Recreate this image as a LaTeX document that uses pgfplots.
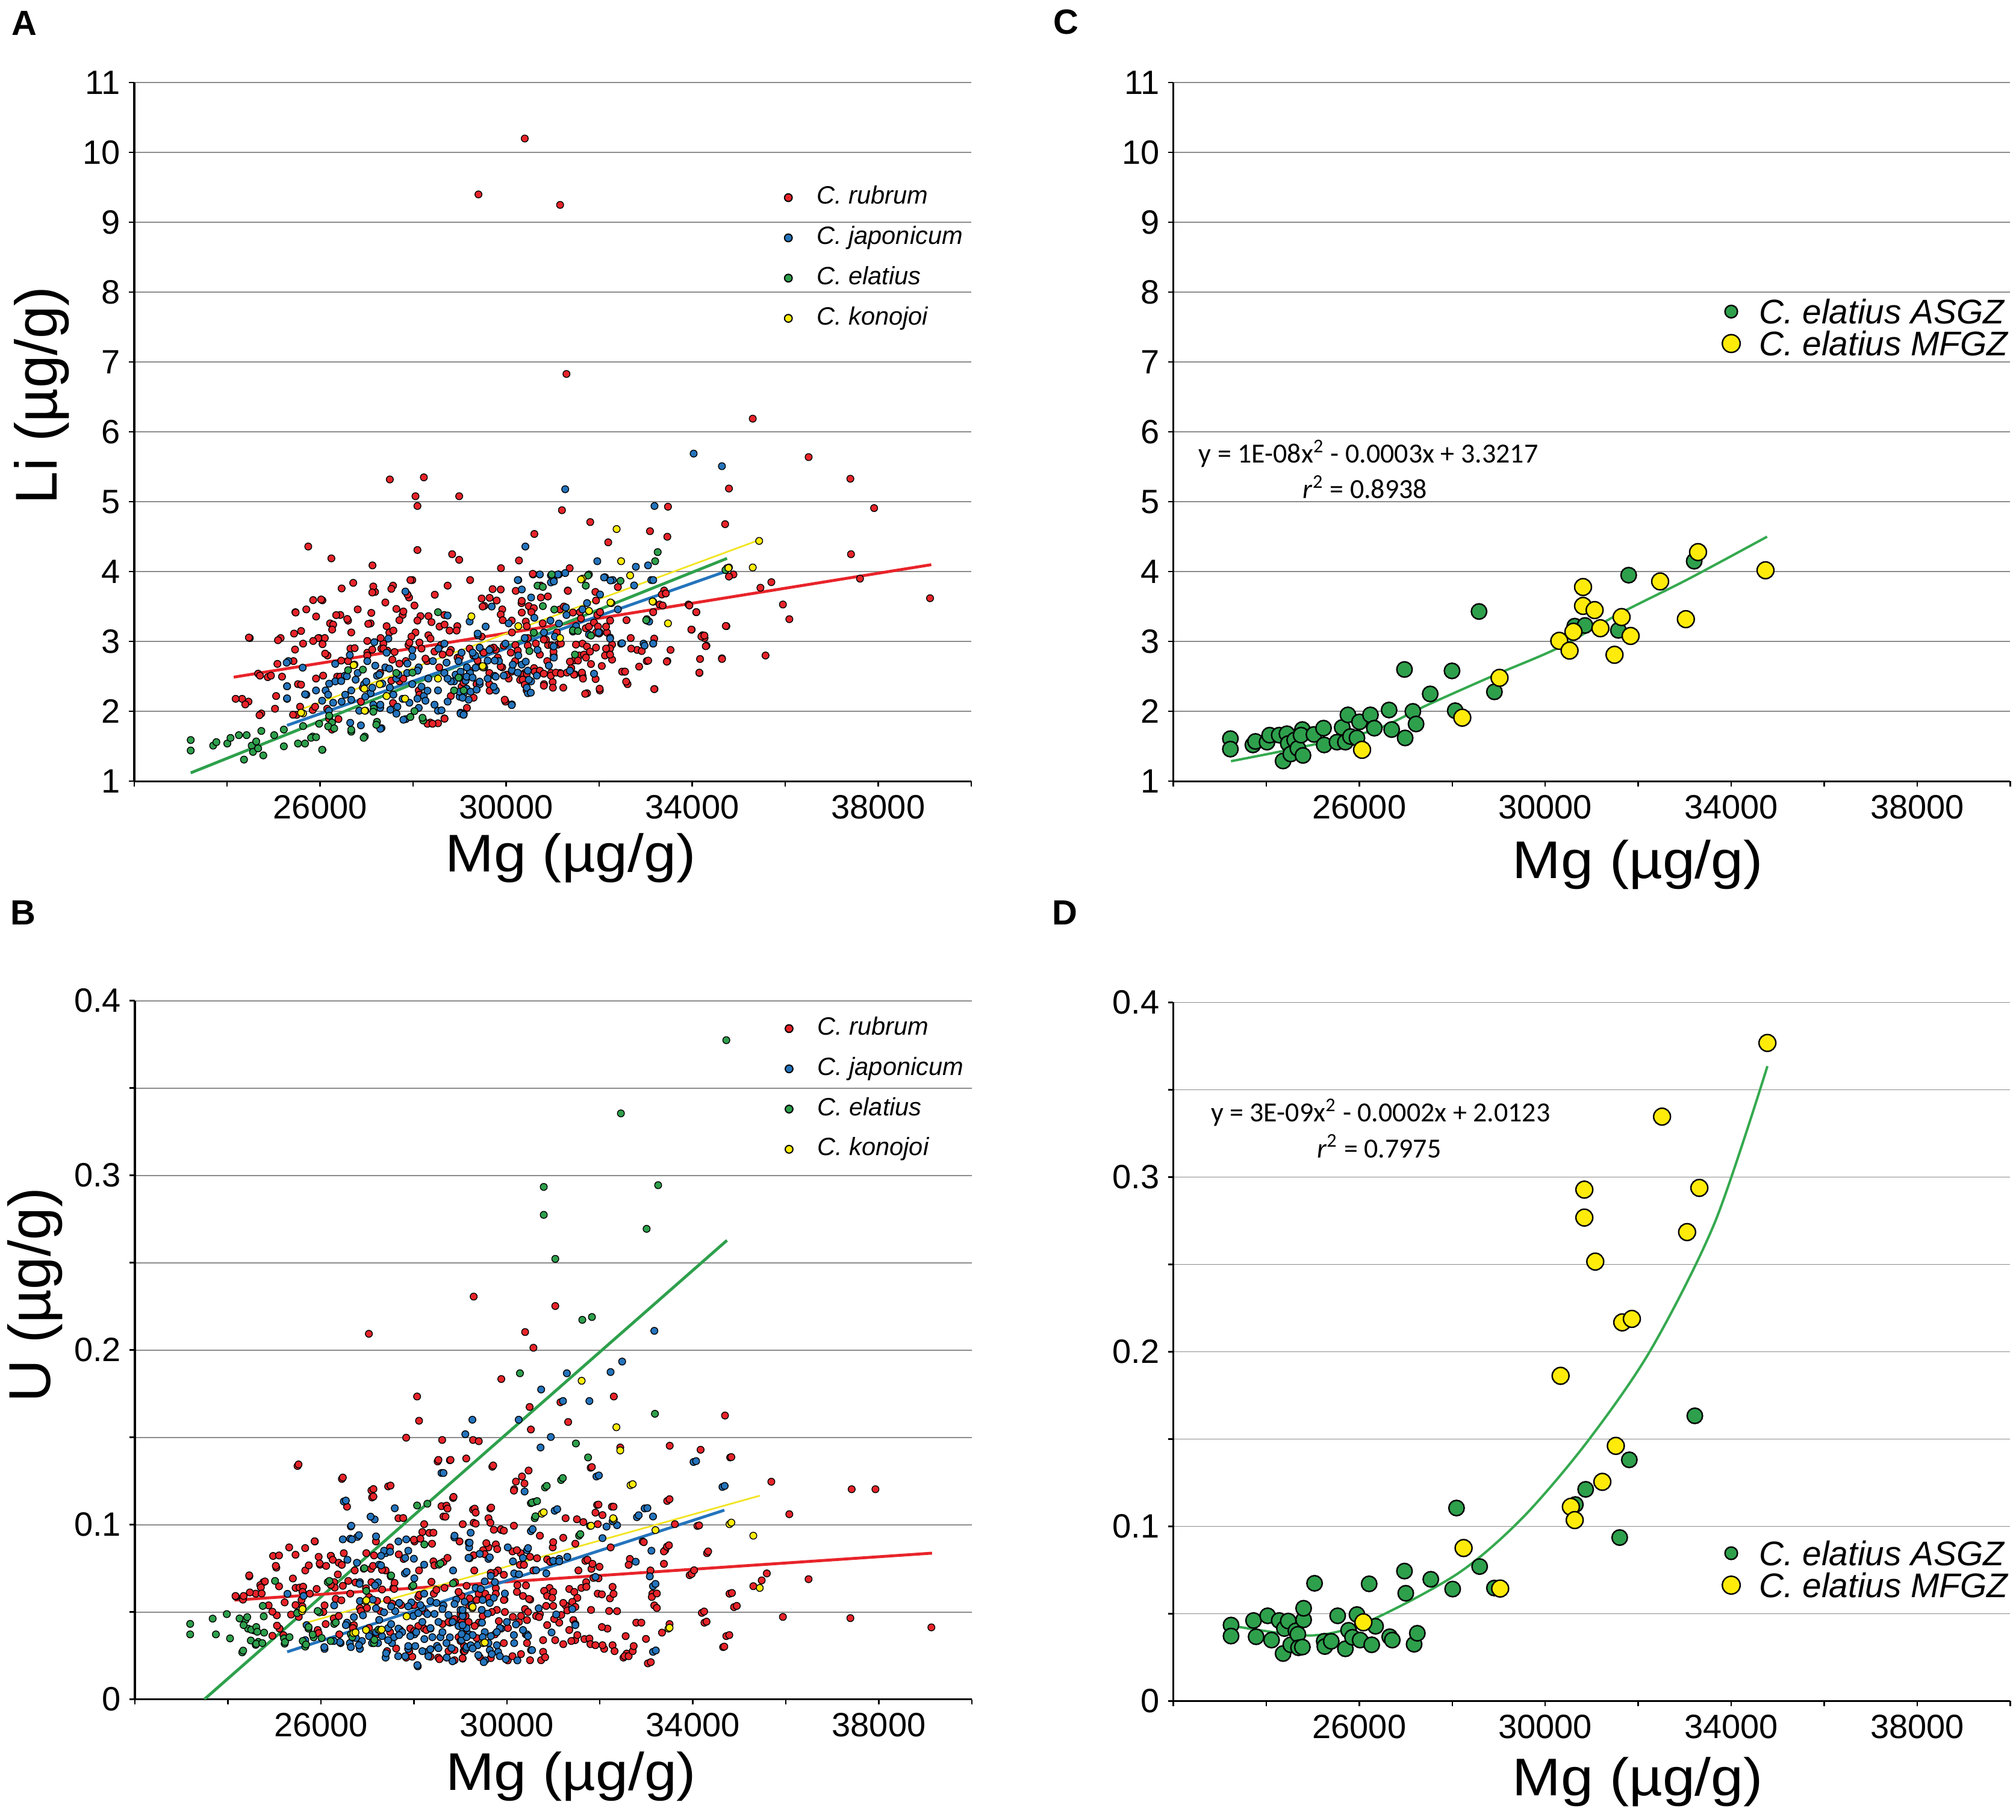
\documentclass[border=0pt]{standalone}
\usepackage{graphicx}
\usepackage{fontspec}
\setmainfont{Liberation Sans}
\newfontfamily\calib{Carlito}
\usepackage{pgfplots}
\pgfplotsset{compat=1.18}

\definecolor{cRed}{HTML}{E8242A}
\definecolor{cBlue}{HTML}{2474BC}
\definecolor{cGreen}{HTML}{2EA04C}
\definecolor{cYellow}{HTML}{FFEB0A}
\definecolor{lGreen}{HTML}{35A94F}
\definecolor{lYellow}{HTML}{F2E422}
\definecolor{gridgray}{HTML}{8C8C8C}

\pgfplotsset{
  panel/.style={
    scale only axis, width=347.5pt, height=290pt,
    xmin=22000, xmax=40000,
    axis x line*=bottom, axis y line*=left,
    axis line style={line width=0.85pt, -},
    xtick={22000,24000,...,40000},
    xticklabels={,,26000,,30000,,34000,,38000,},
    scaled x ticks=false,
    tick align=outside, major tick length=2.2pt,
    tick style={black, line width=0.6pt},
    ymajorgrids, major grid style={line width=0.45pt, gridgray},
    ticklabel style={font=\fontsize{14}{16}\selectfont},
    /pgf/number format/assume math mode=true,
    xlabel={\scalebox{1.1}[1]{Mg (µg/g)}},
    xlabel style={font=\fontsize{22}{24}\selectfont, anchor=center},
    ylabel style={font=\fontsize{24.5}{26}\selectfont, anchor=center, rotate=0},
    legend cell align=left,
  },
  smallleg/.style={
    legend style={draw=none, fill=none, inner sep=0pt, outer sep=0pt,
      anchor=west, font=\fontsize{10.4}{12}\selectfont\itshape,
      row sep=7pt, column sep=10.15pt,
      nodes={inner sep=0pt, text height=7.5pt, text depth=2.2pt}},
  },
  bigleg/.style={
    legend style={draw=none, fill=none, inner sep=0pt, outer sep=0pt,
      anchor=west, font=\fontsize{14.2}{16}\selectfont\itshape,
      row sep=2.25pt, column sep=7.8pt,
      nodes={inner sep=0pt, text height=10.5pt, text depth=0.5pt}},
  },
  dot/.style={only marks, mark=*, mark size=1.45pt, draw=black, line width=0.35pt, fill=#1,
    legend image code/.code={\draw[##1, mark size=1.6pt, line width=0.5pt] plot coordinates {(0pt,0pt)};}},
  bigdot/.style n args={3}{only marks, mark=*, mark size=#2, draw=black, line width=0.6pt, fill=#1,
    legend image code/.code={\draw[##1, mark size=#3] plot coordinates {(0pt,0pt)};}},
}

\begin{document}
\begin{tikzpicture}
\path[use as bounding box] (0pt,0pt) rectangle (837pt,-755.25pt);

% panel letters
\node[font=\fontsize{14.5}{16}\selectfont\bfseries] at (10.15pt,-9.6pt) {A};
\node[font=\fontsize{14.5}{16}\selectfont\bfseries] at (442.5pt,-9.2pt) {C};
\node[font=\fontsize{14.5}{16}\selectfont\bfseries] at (9.6pt,-379pt) {B};
\node[font=\fontsize{14.5}{16}\selectfont\bfseries] at (442pt,-379pt) {D};

% ---------------- A ----------------
\begin{axis}[panel, smallleg, at={(55.7pt,-324.3pt)}, anchor=south west,
  ymin=1, ymax=11, ytick={1,2,...,11},
  ylabel={Li (µg/g)},
  xlabel style={at={(axis description cs:0.5215,-0.1103)}},
  ylabel style={at={(axis description cs:-0.1105,0.5525)}, rotate=0},
  legend style={at={(axis description cs:0.777,0.749)}}]
\addplot[dot=cRed] coordinates {
(30400,10.2) (29404,9.40) (31160,9.25) (31297,6.83) (35303,6.19) (36505,5.64) (37402,5.33) (37913,4.91)
(37416,4.25) (37610,3.90) (39116,3.62) (34791,5.19) (34709,4.68) (35952,3.53) (36090,3.32) (35703,3.85)
(35468,3.77) (35578,2.80) (34888,3.96) (34791,3.93) (34736,3.22) (34640,2.76) (34156,2.55) (34308,2.94)
(34225,3.09) (34087,3.42) (33990,3.17) (33921,3.53) (33480,4.93) (33466,4.50) (33093,4.58) (33397,3.73)
(33300,3.53) (33466,2.72) (33190,2.32) (33024,2.72) (32817,2.88) (32679,3.05) (32610,2.39) (32540,2.57)
(32195,4.42) (32236,3.30) (32195,2.90) (32126,2.80) (32057,2.65) (31808,4.71) (31960,3.38) (32015,2.30)
(31739,2.26) (31642,2.97) (31642,2.51) (31463,2.73) (31366,4.05) (31325,3.73) (31200,4.88) (31159,3.46)
(31090,3.13) (31021,2.80) (30966,2.55) (30883,2.72) (30786,3.26) (30745,3.80) (30606,4.54) (30579,3.96)
(30537,3.46) (30468,3.05) (30399,2.55) (30330,3.55) (30275,4.16) (30192,2.72) (30123,3.13) (30054,2.47)
(29916,3.46) (29888,4.05) (29777,2.88) (29708,3.75) (29639,2.55) (29529,3.51) (29473,3.07) (29363,2.39)
(29294,2.80) (29225,3.88) (28990,5.08) (28990,4.17) (28949,3.22) (28838,4.25) (28810,2.88) (28741,3.80)
(28672,3.38) (28562,2.63) (28465,3.67) (28368,1.84) (28327,3.09) (28230,5.35) (28092,4.31) (28050,5.08)
(28092,4.94) (28050,3.13) (27981,3.88) (27912,3.63) (27843,2.72) (27774,3.38) (27567,3.80) (27498,5.32)
(27429,3.22) (27360,2.97) (27291,2.55) (27180,3.71) (27125,4.09) (27084,3.26) (27014,2.84) (26918,2.34)
(26807,3.46) (26711,3.84) (26669,3.13) (26600,2.72) (26462,3.76) (26434,3.38) (26241,4.19) (26213,3.26)
(26158,2.80) (26048,3.59) (25979,3.05) (25910,2.47) (25744,4.36) (25702,3.46) (25633,2.97) (25523,2.39)
(25467,3.42) (25426,2.72) (25288,2.18) (25150,3.05) (25081,2.68) (25053,2.22) (24873,2.49) (24735,1.97)
(24666,2.54) (24486,3.05) (24459,2.14) (24321,2.18) (24183,2.18) (24390,2.10) (25495,1.95) (25840,2.02)
(26255,1.74) (26393,1.89) (26876,2.14) (27567,2.12) (28534,1.83) (28672,1.90) (29156,2.05) (29985,2.14)
(29639,2.39) (30440,2.30) (30813,2.39) (31159,2.55) (31477,2.53) (31712,3.19) (31919,3.71) (32403,3.78)
(33162,3.42) (33535,2.88) (34267,3.05) (34170,2.75) (31228,2.34) (31573,2.80) (29916,2.63) (28120,2.30)
(27705,2.43) (28810,2.22) (29800,2.75) (30200,2.95) (30600,2.62) (31000,2.42) (31400,2.62) (30900,2.95)
(30300,2.45) (29500,2.85) (28600,2.95) (28300,2.72) (27900,2.95) (27600,2.85) (27300,3.05) (26600,3.30)
(26100,3.05)
(27143,3.788) (27121,3.702) (27531,3.754) (27941,3.880) (27877,3.673) (28028,3.516) (27639,3.467) (27790,3.430)
(27704,3.306) (28157,3.364) (28330,3.364) (28394,3.278) (28567,3.214) (28675,3.243) (28783,3.157) (28934,3.157)
(27488,3.128) (27575,3.157) (27963,3.071) (27920,2.985) (28135,2.985) (28179,2.899) (28373,3.042) (28459,2.856)
(28265,2.755) (28632,2.813) (28783,2.841) (28955,2.770) (27553,2.741) (27704,2.684) (27316,2.899) (27445,2.870)
(27121,2.885) (27014,2.798) (27790,2.469) (27531,2.440) (28135,2.239) (28308,1.823) (28416,1.823) (28675,1.895)
(29042,2.354) (29171,2.497) (26366,2.497) (26431,2.497) (26064,2.512) (26194,1.895) (26151,2.038) (25892,2.067)
(25417,1.952) (25568,2.067) (25590,2.382) (24705,2.512) (24942,2.512) (25180,2.497) (25029,2.038) (24696,1.946)
(24468,3.057) (25093,3.019) (25473,3.415) (25590,3.151) (25439,3.114) (25849,3.593) (26021,3.602) (25913,3.358)
(26345,3.378) (26582,3.323) (26280,3.243) (26258,3.171) (25957,3.048) (26051,2.962) (26107,2.827) (25460,2.885)
(25849,3.008) (26453,2.727) (26651,2.899) (26742,2.905) (27014,3.008) (27035,3.252) (27402,3.559) (27100,3.410)
(27359,2.899) (28092,3.300)
(29883,3.745) (30206,3.725) (30573,3.969) (30746,3.630) (30897,3.645) (29473,3.616) (29645,3.625) (29796,3.587)
(29494,3.501) (29883,3.387) (29926,3.306) (30120,3.300) (30336,3.582) (30336,3.415) (30487,3.507) (30595,3.478)
(30543,3.421) (30422,3.286) (30444,3.220) (31328,3.725) (31242,3.501) (31436,3.415) (31587,3.421) (31609,3.329)
(31932,3.587) (31781,3.214) (31889,3.272) (31975,3.214) (32019,3.128) (31932,3.128) (32170,3.128) (32235,3.057)
(32278,2.956) (32235,2.899) (32148,2.899) (32278,2.741) (32235,2.813) (31738,2.928) (31673,2.813) (31717,2.770)
(31544,2.727) (31371,2.712) (31501,2.956) (31824,2.678) (31803,2.856) (31932,2.913) (31997,3.114) (31630,2.555)
(31458,2.526) (31652,2.469) (31924,2.463) (32010,2.325) (31699,2.251) (31018,2.856) (30983,2.942) (31113,2.956)
(31177,2.971) (30854,3.028) (30810,3.028) (30724,2.813) (30638,2.971) (30465,2.942) (30250,2.870) (30099,2.841)
(29948,2.942) (29732,2.913) (29667,2.899) (29818,2.770) (29883,2.641) (30012,2.526) (30120,2.569) (30379,2.526)
(30357,2.454) (30444,2.540) (30616,2.569) (30724,2.583) (30810,2.540) (30961,2.512) (31069,2.555) (31177,2.540)
(31307,2.555) (30810,2.368) (31005,2.339) (30401,2.382) (29969,2.167) (29645,2.296) (29300,2.196) (29084,2.411)
(29214,2.583) (29386,2.727) (29516,2.841) (29214,2.899) (29000,2.770) (32493,2.569) (32580,2.426) (32688,2.899)
(32860,2.641) (33054,2.727) (33184,3.042) (33184,2.319) (32916,2.864) (33455,2.712) (33982,3.171) (34198,3.071)
(34263,3.085) (34293,2.933) (34155,2.555) (34642,2.750) (34724,3.223) (34090,3.421) (33939,3.516) (33348,3.673)
(33434,3.688) (33365,3.516) (32588,3.306) (32148,3.214) (32558,2.569) (32019,3.421)};
\addlegendentry{C. rubrum}
\addplot[dot=cBlue] coordinates {
(34032,5.69) (34640,5.51) (31270,5.18) (33190,4.94) (30413,4.36) (31960,4.15) (32789,4.07) (33051,4.09)
(32126,3.92) (32292,3.88) (31270,3.98) (31131,3.96) (31021,3.88) (30261,3.88) (33121,3.88) (30537,3.63)
(31642,3.46) (32403,3.46) (31988,3.13) (32472,2.97) (32955,2.97) (33162,2.97) (33024,3.30) (30123,2.10)
(30468,2.26) (29087,1.97) (27843,1.89) (27318,1.76) (26876,1.80) (25316,2.72) (25288,2.36) (25702,2.24)
(26117,2.30) (26324,2.43) (26531,2.51) (26669,2.30) (26807,2.55) (26945,2.39) (27084,2.26) (27222,2.51)
(27401,2.63) (27498,2.34) (27636,2.47) (27774,2.18) (27871,2.55) (27981,2.39) (28120,2.63) (28230,2.22)
(28327,2.47) (28424,2.72) (28534,2.30) (28672,2.55) (28741,2.14) (28880,2.43) (28976,2.72) (29087,2.26)
(29225,2.55) (29335,2.80) (29432,2.39) (29529,2.63) (29639,2.88) (29750,2.51) (29846,2.72) (29985,2.97)
(30123,2.59) (30261,2.80) (30399,3.05) (30537,2.43) (30675,2.88) (30813,3.13) (30952,3.30) (31297,3.38)
(31504,3.22) (31739,3.55) (26462,2.14) (26186,2.01) (27291,2.05) (28120,2.05) (28810,2.43) (29391,3.09)
(30054,3.26) (30606,3.34) (31021,2.93) (25910,2.30) (26324,2.68) (27014,2.72) (27429,2.84) (27981,2.88)
(28672,2.97) (29156,2.63) (29777,2.30) (28534,2.01)
(25279,2.698) (25624,2.626) (25288,2.360) (25288,2.187) (25676,2.245) (26194,2.397) (26172,2.239) (26453,2.434)
(26574,2.503) (26638,2.807) (26763,2.454) (26992,2.426) (27121,2.339) (27165,2.991) (27186,2.655) (27273,2.526)
(27337,2.397) (27488,2.612) (27683,2.526) (27877,2.684) (27985,2.784) (28092,2.583) (28179,2.354) (28308,2.296)
(28459,2.096) (28610,2.015) (28740,2.469) (29020,1.981) (29085,1.952) (27467,3.042) (27575,2.239) (27661,2.067)
(27790,1.881) (27920,2.124) (28092,2.182) (28265,2.153) (26841,2.010) (26970,2.210) (27143,2.096) (27294,2.096)
(27510,2.024) (27640,1.967) (26668,2.167) (26647,1.837) (27294,1.751) (26539,2.239) (26280,2.124) (26043,2.153)
(27833,3.716) (28740,3.372) (28545,2.899) (28718,2.698) (28912,2.526) (29128,2.440) (28999,2.210)
(30250,3.880) (30336,3.745) (30724,3.960) (30962,3.946) (31113,3.960) (30962,3.846) (29689,3.501) (29559,3.214)
(29214,3.286) (29386,3.114) (29041,2.841) (29279,2.841) (29430,2.913) (29602,2.727) (29753,2.727) (29473,2.641)
(29343,2.626) (29149,2.497) (29279,2.483) (29430,2.426) (29602,2.469) (29775,2.497) (29948,2.512) (29020,2.569)
(28998,2.282) (29149,2.325) (29235,2.282) (29365,2.311) (29192,2.167) (29063,2.196) (29732,2.354) (30120,2.090)
(29020,1.967) (29084,1.952) (30142,2.669) (30250,2.555) (30336,2.669) (30465,2.583) (30422,2.712) (30487,2.454)
(30444,2.339) (30530,2.268) (30659,2.512) (30918,2.655) (31026,2.770) (31048,3.071) (31134,3.257) (31371,2.583)
(31436,3.143) (31781,3.100) (31889,2.540) (32019,3.673) (32105,3.917) (32243,3.874) (32235,3.042) (32493,2.976)
(32977,2.942) (33162,2.971) (33076,3.286) (32752,3.803) (33162,3.880) (31285,3.487) (31026,3.860)};
\addlegendentry{C. japonicum}
\addplot[dot=cGreen] coordinates {
(23216,1.59) (23216,1.44) (23699,1.51) (23768,1.56) (24003,1.54) (24072,1.62) (24252,1.66) (24418,1.66)
(24528,1.51) (24362,1.31) (24556,1.42) (24625,1.57) (24666,1.47) (24735,1.72) (24777,1.37) (25011,1.66)
(25219,1.74) (25219,1.50) (25523,1.54) (25633,1.79) (25674,1.54) (25840,1.64) (26048,1.45) (26255,1.84)
(26669,1.71) (26959,1.64) (27222,1.85) (27153,2.04) (27940,1.92) (28216,1.87) (28534,3.42) (28880,2.30)
(30675,3.80) (30979,3.96) (31780,3.96) (31435,3.16) (33024,3.32) (33204,4.15) (33259,4.28) (34750,4.05)
(26600,2.59) (27636,2.55) (29087,2.30) (31712,3.80)
(30789,3.782) (30789,3.507) (31035,3.458) (31760,3.946) (32459,3.868) (31544,3.151) (31824,3.085) (31479,2.813)
(30500,2.864) (28998,2.483) (30595,3.128) (33011,3.306) (34716,4.023) (27985,2.555) (28977,2.483) (26919,2.598)
(27143,1.995) (28028,2.004) (28201,1.909) (27208,1.809) (26668,1.737) (26936,1.622) (26043,1.450) (26194,1.938)
(26172,1.786) (26302,1.757) (25978,1.823) (25805,1.622) (25913,1.631)};
\addlegendentry{C. elatius}
\addplot[dot=cYellow] coordinates {
(35441,4.44) (32375,4.61) (32472,4.15) (31642,3.90) (32264,3.55) (33162,3.57) (33480,3.26) (34791,4.06)
(35303,4.06) (29252,3.36) (26738,2.67) (25633,1.97) (26973,2.01) (27429,2.22) (28534,2.47) (29501,2.63)
(31159,3.05) (30261,3.22)
(29494,2.649) (31609,3.889) (32666,3.946) (31781,3.438) (32243,3.559) (33149,3.573) (34780,4.052)
(25590,1.981) (26720,2.661) (26949,2.325) (27281,2.388) (26958,2.010) (27825,2.182)};
\addlegendentry{C. konojoi}
\addplot[cRed, line width=1.2pt, forget plot] coordinates {(24141,2.49) (39143,4.10)};
\addplot[cGreen, line width=1.2pt, forget plot] coordinates {(23216,1.12) (34750,4.19)};
\addplot[cBlue, line width=1.2pt, forget plot] coordinates {(25288,1.80) (34709,4.00)};
\addplot[lYellow, line width=0.7pt, forget plot] coordinates {(25633,2.04) (35469,4.46)};
\end{axis}

% ---------------- C ----------------
\begin{axis}[panel, bigleg, at={(487.1pt,-324.3pt)}, anchor=south west,
  ymin=1, ymax=11, ytick={1,2,...,11},
  xlabel style={at={(axis description cs:0.555,-0.119)}},
  legend style={at={(axis description cs:0.656,0.6494)}}]
\addplot[lGreen, line width=1pt, smooth, forget plot] coordinates {
(23241,1.287) (24749,1.487) (26311,1.731) (27456,2.089) (28910,2.519) (30265,2.905) (31617,3.407) (33075,3.894) (34771,4.501)};
\addplot[bigdot={cGreen}{3.2pt}{2.6pt}] coordinates {
(23229,1.61) (23229,1.46) (23713,1.52) (23768,1.57) (24017,1.56) (24072,1.66) (24279,1.66) (24445,1.68)
(24473,1.54) (24362,1.29) (24528,1.39) (24611,1.59) (24680,1.47) (24777,1.74) (24790,1.37) (24749,1.66)
(25025,1.67) (25232,1.76) (25246,1.52) (25522,1.56) (25633,1.77) (25702,1.56) (25757,1.95) (25812,1.64)
(25951,1.62) (26006,1.85) (26241,1.95) (26324,1.76) (26642,2.02) (26697,1.74) (26973,2.60) (26987,1.62)
(27153,2.00) (27222,1.82) (27526,2.25) (27995,2.58) (28064,2.01) (28576,3.43) (28907,2.28) (30634,3.22)
(30855,3.23) (31573,3.16) (31794,3.95) (33203,4.15)};
\addlegendentry{C. elatius ASGZ}
\addplot[bigdot={cYellow}{3.5pt}{3.7pt}] coordinates {
(26061,1.45) (28216,1.91) (29017,2.48) (30302,3.01) (30523,2.87) (30606,3.14) (30813,3.78) (30813,3.51)
(31062,3.45) (31186,3.19) (31490,2.81) (31642,3.35) (31836,3.08) (32471,3.86) (33024,3.32) (33286,4.28)
(34737,4.02)};
\addlegendentry{C. elatius MFGZ}
\node[anchor=west, inner sep=0pt, font=\calib\fontsize{11.5}{13}\selectfont] at (axis cs:22539,5.69)
  {y = 1E-08x\textsuperscript{2} - 0.0003x + 3.3217};
\node[anchor=west, inner sep=0pt, font=\calib\fontsize{11.5}{13}\selectfont] at (axis cs:24779,5.21)
  {\textit{r}\textsuperscript{2} = 0.8938};
\end{axis}

% ---------------- B ----------------
\begin{axis}[panel, smallleg, at={(56pt,-705.4pt)}, anchor=south west,
  ymin=0, ymax=0.4, ytick={0,0.05,0.1,0.15,0.2,0.25,0.3,0.35,0.4},
  yticklabels={0,,0.1,,0.2,,0.3,,0.4},
  ylabel={U (µg/g)},
  xlabel style={at={(axis description cs:0.521,-0.110)}},
  ylabel style={at={(axis description cs:-0.119,0.579)}, rotate=0},
  legend style={at={(axis description cs:0.777,0.8737)}}]
\addplot[dot=cRed] coordinates {
(29286,0.2306) (31041,0.2252) (27032,0.2093) (30392,0.2103) (30571,0.2013) (29880,0.1834) (32300,0.1734)
(28069,0.1734) (31152,0.1701) (30489,0.1674) (28111,0.1595) (31318,0.1588) (34691,0.1625) (30516,0.1545)
(29272,0.1485) (27834,0.1498) (29396,0.1478) (28608,0.1485) (33502,0.1452) (34166,0.1429) (32438,0.1442)
(34802,0.1385) (28511,0.1362) (28774,0.1369) (31802,0.1326) (29687,0.1332) (25498,0.1336) (26452,0.1262)
(30378,0.1236) (30157,0.1203) (35687,0.1246) (37415,0.1203) (37926,0.1203) (27087,0.1196) (27101,0.1156)
(27447,0.1219) (32258,0.1103) (31940,0.1113) (36074,0.1060) (28594,0.1106) (28636,0.1047) (28843,0.1153)
(29272,0.1086) (29645,0.1093) (29880,0.0970) (34097,0.0993) (33447,0.1136) (34304,0.0837) (33931,0.0711)
(35590,0.0721) (36488,0.0688) (35300,0.0648) (35480,0.0681) (34788,0.0605) (34885,0.0528) (34193,0.0495)
(34249,0.0439) (35936,0.0472) (37387,0.0465) (39129,0.0412) (34719,0.0362) (34650,0.0299) (33032,0.0206)
(32507,0.0239) (32576,0.0262) (32991,0.0346) (33336,0.0382) (33129,0.0605) (33170,0.0538) (33405,0.0854)
(32921,0.0904) (32783,0.0439) (32369,0.0505) (32162,0.0405) (32092,0.0289) (31954,0.0605) (31705,0.0671)
(31539,0.0738) (31470,0.0339) (31263,0.0538) (31125,0.0439) (30986,0.0870) (30917,0.0638) (30779,0.0272)
(30710,0.0488) (30571,0.0738) (30502,0.0571) (30406,0.0372) (30295,0.0837) (30226,0.0654) (30129,0.0472)
(30019,0.0223) (29949,0.0571) (29811,0.0738) (29742,0.0372) (29604,0.0870) (29534,0.0605) (29396,0.0439)
(29299,0.0738) (29189,0.0538) (29078,0.0306) (28982,0.0904) (28885,0.0671) (28774,0.0439) (28636,0.0787)
(28525,0.0239) (28429,0.0605) (28332,0.0953) (28221,0.0405) (28111,0.0738) (28014,0.0904) (27945,0.0538)
(27834,0.0239) (27779,0.0804) (27668,0.1037) (27558,0.0638) (27392,0.0738) (27281,0.0505) (27184,0.0904)
(27087,0.0671) (26977,0.0837) (26839,0.0522) (26728,0.0738) (26631,0.0605) (26493,0.0837) (26396,0.0372)
(26286,0.0671) (26217,0.0821) (26079,0.0538) (25982,0.0771) (25871,0.0904) (25761,0.0605) (25664,0.0738)
(25525,0.0472) (25456,0.0638) (25318,0.0870) (25221,0.0555) (25111,0.0405) (25042,0.0754) (24972,0.0821)
(24876,0.0538) (24765,0.0671) (24696,0.0654) (24599,0.0605) (24461,0.0704) (24323,0.0571) (24171,0.0588)
(30710,0.0937) (31263,0.1037) (31954,0.1003) (32231,0.0870) (32645,0.0804) (33613,0.1003) (33088,0.0738)
(26562,0.1103) (27488,0.0870) (28221,0.1003) (29051,0.1003) (29604,0.1037)
(25519,0.1345) (26472,0.1270) (27130,0.1204) (27130,0.1161) (27498,0.1224) (27771,0.1038) (28853,0.1159)
(28701,0.1109) (28723,0.1092) (28680,0.1046) (28528,0.1371) (28788,0.1371) (29126,0.1379) (28182,0.0958)
(28420,0.0954) (28000,0.0914) (28139,0.0920) (28390,0.0891) (28723,0.0810) (28420,0.0790) (28442,0.0767)
(27675,0.0830) (27143,0.0824) (27078,0.0747) (27316,0.0741) (27121,0.0764) (25866,0.0905) (25662,0.0866)
(25100,0.0824) (25455,0.0828) (25030,0.0764) (25740,0.0767) (25952,0.0816) (25974,0.0778) (26212,0.0822)
(26255,0.0799) (26113,0.0764) (26385,0.0782) (26450,0.0770) (24459,0.0710) (24797,0.0675) (24710,0.0641)
(24727,0.0606) (24472,0.0612) (24338,0.0592) (24164,0.0592) (25100,0.0647) (25398,0.0692) (25541,0.0640)
(25619,0.0645) (25606,0.0615) (25584,0.0569) (25455,0.0540) (25602,0.0532) (25359,0.0485) (25052,0.0481)
(24957,0.0502) (25056,0.0422) (24957,0.0364) (25195,0.0368) (25909,0.0632) (26052,0.0500) (26320,0.0575)
(26441,0.0567) (26745,0.0669) (26589,0.0678) (26472,0.0650) (26364,0.0715) (26299,0.0640) (26212,0.0655)
(26970,0.0636) (27316,0.0629) (27584,0.0667) (28095,0.0586) (28247,0.0500) (28009,0.0540) (27727,0.0540)
(27532,0.0548) (27424,0.0569) (27208,0.0563) (26991,0.0523) (26861,0.0506) (27035,0.0586) (26277,0.0463)
(26385,0.0477) (26710,0.0425) (26688,0.0408) (25931,0.0397) (25952,0.0379) (26104,0.0431) (27035,0.0408)
(27208,0.0374) (27489,0.0385) (27706,0.0397) (27922,0.0406) (28095,0.0420) (28268,0.0397) (28615,0.0431)
(28745,0.0443) (28874,0.0460) (29004,0.0454) (29091,0.0397) (28961,0.0356) (28874,0.0282) (28745,0.0276)
(29069,0.0276) (28874,0.0224) (29048,0.0233) (28550,0.0230) (28355,0.0244) (27965,0.0244) (27619,0.0291)
(27424,0.0276) (27900,0.0276) (29112,0.0477) (29026,0.0592) (28961,0.0615) (29134,0.0650) (28658,0.0638)
(28377,0.0673) (28485,0.0627) (28117,0.0598) (27576,0.0632) (28009,0.0391)
(29706,0.1339) (30467,0.1310) (30195,0.1247) (30325,0.1276) (30151,0.1195) (29307,0.1092) (29329,0.1069)
(29662,0.1098) (30151,0.0994) (29286,0.1011) (29329,0.1006) (29645,0.1011) (29719,0.0971) (29870,0.0974)
(29935,0.0966) (29558,0.0894) (29762,0.0887) (29792,0.0860) (29489,0.0854) (29286,0.0825) (29524,0.0831)
(29199,0.0808) (30121,0.0847) (30216,0.0854) (30281,0.0770) (30368,0.0770) (30498,0.0816) (30649,0.0808)
(29935,0.0713) (29740,0.0724) (29654,0.0724) (29394,0.0604) (29762,0.0636) (29762,0.0604) (29610,0.0581)
(29351,0.0569) (29199,0.0578) (29935,0.0569) (29957,0.0500) (29784,0.0512) (29675,0.0500) (29480,0.0477)
(29177,0.0443) (29004,0.0489) (29026,0.0443) (29307,0.0420) (29827,0.0448) (30022,0.0408) (30260,0.0443)
(30390,0.0517) (30303,0.0477) (30455,0.0500) (30628,0.0477) (30693,0.0471) (30433,0.0454) (30216,0.0615)
(30346,0.0592) (30476,0.0575) (30411,0.0652) (30801,0.0621) (30866,0.0592) (30996,0.0615) (30974,0.0581)
(30844,0.0535) (30996,0.0535) (31212,0.0552) (31299,0.0509) (31342,0.0632) (31450,0.0615) (31515,0.0581)
(31407,0.0558) (31472,0.0529) (30866,0.0425) (31017,0.0460) (31169,0.0483) (31342,0.0397) (31429,0.0454)
(31472,0.0431) (31515,0.0368) (31385,0.0334) (31667,0.0345) (31775,0.0348) (31797,0.0316) (31905,0.0310)
(32056,0.0310) (31212,0.0316) (31039,0.0339) (30779,0.0339) (30736,0.0224) (30823,0.0241) (30498,0.0224)
(30519,0.0282) (30433,0.0322) (30121,0.0247) (30303,0.0259) (29935,0.0322) (29654,0.0236) (29416,0.0241)
(29048,0.0236) (29091,0.0276) (29351,0.0351) (29004,0.0334) (30996,0.0900) (31212,0.0925) (31472,0.0891)
(31506,0.1031) (31645,0.1015) (31970,0.1115) (31905,0.1069) (32056,0.1055) (32294,0.1103) (30866,0.0801)
(30931,0.0787) (31688,0.0793) (31732,0.0799) (31818,0.0747) (31840,0.0776) (31991,0.0759) (31970,0.0693)
(31602,0.0638) (31710,0.0644) (31861,0.0695) (32043,0.0601) (32273,0.0644) (32216,0.0578) (32294,0.0604)
(31810,0.0512) (32199,0.0506) (32043,0.0414) (32273,0.0310) (32316,0.0276) (32554,0.0362) (32533,0.0247)
(32619,0.0247) (32706,0.0276) (32727,0.0305) (32892,0.0439) (33095,0.0213) (33117,0.0586) (33225,0.0606)
(33225,0.0523) (33377,0.0776) (33377,0.0847) (33442,0.0874) (33485,0.0882) (32944,0.0900) (32619,0.0770)
(33498,0.1146) (34134,0.0996) (33974,0.0718) (34026,0.0739) (34329,0.0847) (34242,0.0503) (34294,0.0445)
(33498,0.0431) (34675,0.0302) (34783,0.0368) (34840,0.0609) (34944,0.0535) (34827,0.1387) (31827,0.1330)};
\addlegendentry{C. rubrum}
\addplot[dot=cBlue] coordinates {
(33171,0.2110) (32479,0.1934) (31290,0.1867) (32230,0.1874) (30254,0.1601) (29258,0.1601) (30737,0.1774)
(31207,0.1708) (31774,0.1708) (29106,0.1518) (30945,0.1502) (30724,0.1442) (34014,0.1359) (28594,0.1296)
(31926,0.1276) (34636,0.1216) (26493,0.1133) (27157,0.1030) (26645,0.0990) (31028,0.1080) (32963,0.1093)
(32369,0.0997) (33143,0.1047) (32797,0.1043) (30516,0.0963) (28871,0.0927) (33143,0.0648) (33143,0.0272)
(26631,0.0920) (26784,0.0930) (27392,0.0837) (27807,0.0721) (28221,0.0605) (28636,0.0538) (29051,0.0488)
(29465,0.0439) (29880,0.0405) (30226,0.0223) (28083,0.0189) (27392,0.0239) (26839,0.0289) (26424,0.0322)
(26079,0.0289) (27046,0.0372) (27530,0.0322) (27876,0.0289) (28290,0.0272) (28705,0.0239) (29120,0.0289)
(29534,0.0223) (29811,0.0272) (30157,0.0322) (30433,0.0372) (27668,0.0405) (28014,0.0372) (28360,0.0405)
(28774,0.0355) (29189,0.0372) (29604,0.0322) (27254,0.0455) (27599,0.0505) (27945,0.0555) (28290,0.0488)
(28913,0.0571) (29327,0.0638) (29742,0.0671) (30157,0.0721) (26839,0.0671) (27115,0.0571) (26562,0.0439)
(26286,0.0538) (25664,0.0339) (27254,0.0771) (27668,0.0904) (28221,0.0771) (28843,0.0738) (29189,0.0870)
(29604,0.0804) (30019,0.0870) (30433,0.0854) (30848,0.0721) (31125,0.0804) (29051,0.0405) (28498,0.0306)
(26537,0.1138) (27069,0.1046) (26654,0.0994) (26818,0.0940) (26472,0.0916) (26667,0.0916) (27186,0.0933)
(27589,0.1094) (27836,0.0916) (28000,0.0805) (27879,0.0851) (27814,0.0810) (27359,0.0851) (27489,0.0845)
(27294,0.0822) (27294,0.0767) (26571,0.0799) (26775,0.0782) (27844,0.0730) (28009,0.0693) (27229,0.0670)
(27165,0.0652) (26831,0.0661) (27502,0.0709) (25281,0.0604) (25628,0.0592) (26840,0.0563) (26905,0.0481)
(27186,0.0521) (27359,0.0498) (27511,0.0532) (27684,0.0552) (27879,0.0532) (27987,0.0477) (28095,0.0494)
(28182,0.0523) (28355,0.0563) (28485,0.0552) (28615,0.0517) (28745,0.0483) (28831,0.0443) (28961,0.0420)
(29048,0.0477) (29134,0.0408) (29004,0.0512) (28874,0.0546) (28528,0.0443) (28355,0.0408) (28182,0.0443)
(28052,0.0385) (27922,0.0362) (27749,0.0385) (27576,0.0356) (27446,0.0339) (27316,0.0362) (27229,0.0322)
(27100,0.0322) (26883,0.0334) (26753,0.0351) (26623,0.0322) (26645,0.0299) (26818,0.0310) (26407,0.0328)
(26277,0.0334) (26074,0.0299) (25693,0.0425) (27403,0.0264) (27662,0.0247) (27814,0.0247) (28074,0.0196)
(28312,0.0247) (28182,0.0276) (28030,0.0305) (27879,0.0305) (28225,0.0345) (28398,0.0356) (28571,0.0356)
(28701,0.0322) (28809,0.0293) (29026,0.0339) (29134,0.0299) (28831,0.0218) (28355,0.0287) (28528,0.0293)
(28615,0.0385) (28442,0.0489) (28139,0.0540) (27446,0.0408) (27684,0.0368) (27511,0.0431) (27186,0.0385)
(27035,0.0362) (26537,0.0425) (26710,0.0471) (28874,0.0937) (29177,0.0897) (29177,0.0810) (28636,0.1296)
(30381,0.1190) (31082,0.1089) (30554,0.0974) (29221,0.0954) (29199,0.0897) (29416,0.0833) (29632,0.0813)
(29177,0.0810) (30455,0.0866) (30346,0.0810) (30130,0.0790) (30260,0.0716) (30628,0.0739) (30996,0.0793)
(31126,0.0790) (31299,0.0816) (29654,0.0707) (29524,0.0675) (29437,0.0632) (29957,0.0606) (29719,0.0581)
(29632,0.0552) (29480,0.0569) (29091,0.0558) (29242,0.0540) (29048,0.0512) (29459,0.0512) (29589,0.0491)
(30000,0.0443) (30195,0.0429) (29848,0.0408) (29784,0.0385) (29654,0.0362) (29524,0.0385) (29480,0.0356)
(29264,0.0368) (29134,0.0356) (29026,0.0374) (29048,0.0425) (29221,0.0310) (29372,0.0310) (29264,0.0291)
(29632,0.0282) (29675,0.0259) (29784,0.0310) (29848,0.0247) (29978,0.0230) (29502,0.0213) (29385,0.0253)
(30151,0.0368) (30346,0.0397) (30455,0.0362) (30541,0.0282) (30684,0.0521) (31061,0.0486) (31407,0.0517)
(31472,0.0425) (30961,0.0383) (31905,0.0701) (32143,0.0989) (32835,0.1054) (33022,0.1095) (34069,0.1364)
(34684,0.1222) (31978,0.1282) (33108,0.0851) (32771,0.0788) (33074,0.0704) (33195,0.0661) (33203,0.0280)
(32056,0.0923) (32273,0.1020)};
\addlegendentry{C. japonicum}
\addplot[dot=cGreen] coordinates {
(34719,0.3774) (32452,0.3355) (33253,0.2944) (30793,0.2934) (30793,0.2774) (33005,0.2694) (31041,0.2522)
(31622,0.2173) (31829,0.2189) (30281,0.1867) (33184,0.1635) (31484,0.1465) (31746,0.1385) (31166,0.1256)
(30820,0.1213) (30516,0.1123) (30585,0.1130) (30599,0.1037) (28069,0.1110) (28290,0.1120) (31553,0.0937)
(28539,0.0771) (23189,0.0432) (23189,0.0372) (23673,0.0462) (23742,0.0372) (23977,0.0488) (24046,0.0349)
(24309,0.0269) (24378,0.0455) (24433,0.0405) (24558,0.0395) (24599,0.0312) (24654,0.0329) (24751,0.0535)
(24779,0.0382) (25014,0.0678) (25207,0.0349) (25221,0.0319) (25498,0.0498) (25664,0.0302) (25733,0.0405)
(25844,0.0355) (25968,0.0498) (26148,0.0671) (26286,0.0432) (26645,0.0372) (26922,0.0748) (26977,0.0621)
(27143,0.0322) (27502,0.0704) (27958,0.0645) (28843,0.0664)
(24251,0.0463) (24338,0.0425) (24416,0.0471) (24502,0.0399) (24610,0.0414) (24632,0.0387) (24493,0.0337)
(24610,0.0318) (24740,0.0322) (24329,0.0279) (24771,0.0475) (25229,0.0328) (25325,0.0356) (25610,0.0334)
(25680,0.0314) (25823,0.0371) (26017,0.0351) (26212,0.0334) (26320,0.0440) (25931,0.0506) (25736,0.0414)
(25489,0.0494) (26182,0.0678) (26935,0.0751) (26675,0.0356) (27151,0.0341) (27511,0.0709) (28225,0.0887)
(28571,0.0778) (27238,0.0399) (27987,0.0652) (30857,0.1222) (31203,0.1267) (30541,0.1127) (30649,0.1135)
(30615,0.1048) (31580,0.0946)};
\addlegendentry{C. elatius}
\addplot[dot=cYellow] coordinates {
(31608,0.1824) (32355,0.1558) (32438,0.1425) (32659,0.1226) (30751,0.1063) (31788,0.0993) (34788,0.1003)
(35300,0.0937) (35438,0.0638) (33475,0.0405) (29258,0.0522) (29493,0.0322) (27281,0.0395) (26963,0.0561)
(26700,0.0379) (25595,0.0505) (32300,0.1030)
(25606,0.0517) (26978,0.0567) (27844,0.0475) (26745,0.0383) (26970,0.0397) (27307,0.0399) (32706,0.1232)
(30792,0.1071) (31810,0.0994) (32286,0.1037) (34827,0.1012) (33195,0.0969) (29264,0.0529) (29524,0.0325)
(33498,0.0410)};
\addlegendentry{C. konojoi}
\addplot[cGreen, line width=1.2pt, forget plot] coordinates {(23493,0) (34733,0.2628)};
\addplot[cRed, line width=1.2pt, forget plot] coordinates {(24143,0.0568) (39143,0.0837)};
\addplot[cBlue, line width=1.2pt, forget plot] coordinates {(25276,0.0272) (34677,0.1083)};
\addplot[lYellow, line width=0.7pt, forget plot] coordinates {(25595,0.0432) (35438,0.1166)};
\end{axis}

% ---------------- D ----------------
\begin{axis}[panel, bigleg, at={(487.1pt,-706.1pt)}, anchor=south west,
  ymin=0, ymax=0.4, ytick={0,0.05,0.1,0.15,0.2,0.25,0.3,0.35,0.4},
  yticklabels={0,,0.1,,0.2,,0.3,,0.4},
  xlabel style={at={(axis description cs:0.555,-0.116)}},
  legend style={at={(axis description cs:0.656,0.1887)}}]
\addplot[lGreen, line width=1pt, smooth, forget plot] coordinates {
(23243,0.0432) (24942,0.0375) (26186,0.0455) (28120,0.0730) (29501,0.1046) (30882,0.1477) (32263,0.2008) (33645,0.2739) (34778,0.3635)};
\addplot[bigdot={cGreen}{3.2pt}{2.6pt}] coordinates {
(23243,0.0435) (23243,0.0372) (23727,0.0461) (23782,0.0368) (24031,0.0488) (24114,0.0349) (24279,0.0461)
(24362,0.0272) (24390,0.0415) (24473,0.0458) (24528,0.0322) (24638,0.0402) (24680,0.0382) (24694,0.0305)
(24777,0.0309) (24804,0.0465) (24804,0.0531) (25039,0.0674) (25246,0.0342) (25260,0.0312) (25398,0.0342)
(25536,0.0488) (25702,0.0299) (25771,0.0405) (25854,0.0365) (25951,0.0495) (26020,0.0349) (26213,0.0671)
(26268,0.0322) (26351,0.0428) (26655,0.0368) (26711,0.0349) (26973,0.0744) (27000,0.0617) (27180,0.0325)
(27249,0.0388) (27539,0.0697) (28009,0.0641) (28092,0.1105) (28589,0.0770) (28907,0.0647) (30648,0.1125)
(30869,0.1212) (31601,0.0936) (31808,0.1381) (33217,0.1633)};
\addlegendentry{C. elatius ASGZ}
\addplot[bigdot={cYellow}{3.5pt}{3.7pt}] coordinates {
(26089,0.0451) (28244,0.0876) (29031,0.0644) (30330,0.1862) (30551,0.1112) (30634,0.1036) (30841,0.2928)
(30841,0.2768) (31076,0.2516) (31228,0.1255) (31518,0.1461) (31656,0.2168) (31863,0.2188) (32512,0.3346)
(33051,0.2685) (33314,0.2938) (34778,0.3768)};
\addlegendentry{C. elatius MFGZ}
\node[anchor=west, inner sep=0pt, font=\calib\fontsize{11.5}{13}\selectfont] at (axis cs:22801,0.3369)
  {y = 3E-09x\textsuperscript{2} - 0.0002x + 2.0123};
\node[anchor=west, inner sep=0pt, font=\calib\fontsize{11.5}{13}\selectfont] at (axis cs:25082,0.3177)
  {\textit{r}\textsuperscript{2} = 0.7975};
\end{axis}
\end{tikzpicture}
\end{document}
